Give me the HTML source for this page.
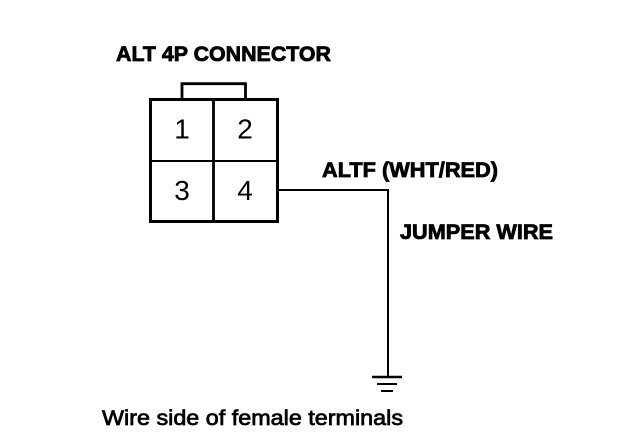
<!DOCTYPE html>
<html><head><meta charset="utf-8"><style>
html,body{margin:0;padding:0;background:#fff}
svg{display:block}
text{font-family:"Liberation Sans",sans-serif;fill:#000}
.b{font-weight:bold;font-size:21.500px;stroke:#000;stroke-width:.8px}
.r{font-size:21.500px;stroke:#000;stroke-width:.75px}
.n{font-size:28px;text-anchor:middle}
</style></head><body>
<svg width="624" height="446" viewBox="0 0 624 446" xmlns="http://www.w3.org/2000/svg">
<rect width="624" height="446" fill="#fff"/>
<text class="b" x="116" y="61" textLength="215" lengthAdjust="spacingAndGlyphs">ALT 4P CONNECTOR</text>
<path d="M182 99V83.700H245.500V99" fill="none" stroke="#000" stroke-width="2.800"/>
<rect x="150.500" y="99.500" width="127" height="122" fill="none" stroke="#000" stroke-width="3"/>
<path d="M213.500 99V222" stroke="#000" stroke-width="2.800"/>
<path d="M150 161H277" stroke="#000" stroke-width="2"/>
<text class="n" x="182" y="138.500">1</text>
<text class="n" x="245" y="138.500">2</text>
<text class="n" x="182" y="200">3</text>
<text class="n" x="245" y="200">4</text>
<path d="M278 190H388V377" fill="none" stroke="#000" stroke-width="2"/>
<path d="M372 377H402" stroke="#000" stroke-width="2.500"/>
<path d="M377 384H397" stroke="#000" stroke-width="2"/>
<path d="M381 391H393" stroke="#000" stroke-width="2"/>
<text class="b" x="322" y="177" textLength="176" lengthAdjust="spacingAndGlyphs">ALTF (WHT/RED)</text>
<text class="b" x="400" y="239" textLength="153" lengthAdjust="spacingAndGlyphs">JUMPER WIRE</text>
<text class="r" x="102" y="425" textLength="301" lengthAdjust="spacingAndGlyphs">Wire side of female terminals</text>
</svg>
</body></html>
